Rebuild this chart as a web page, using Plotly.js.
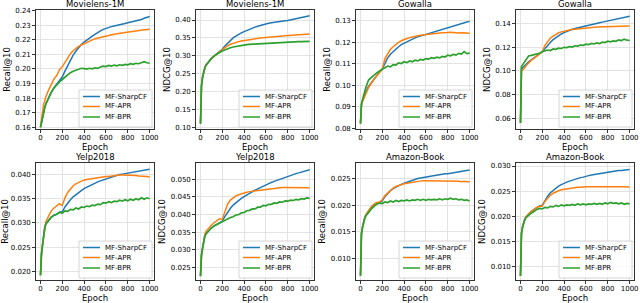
<!DOCTYPE html>
<html><head><meta charset="utf-8">
<script src="https://cdn.plot.ly/plotly-3.0.1.min.js"></script>
<style>html,body{margin:0;padding:0;background:#fff}#chart{width:640px;height:303px}</style>
</head><body><div id="chart"></div>
<script>
const epochs = [1,5,10,20,30,40,50,75,100,125,150,175,200,225,250,275,300,325,350,375,400,425,450,475,500,525,550,575,600,625,650,675,700,725,750,775,800,825,850,875,900,925,950,975,1000];
const seriesNames = ['MF-SharpCF','MF-APR','MF-BPR'];
const panelTitles = ['Movielens-1M','Movielens-1M','Gowalla','Gowalla','Yelp2018','Yelp2018','Amazon-Book','Amazon-Book'];
const metricLabels = ['Recall@10','NDCG@10','Recall@10','NDCG@10','Recall@10','NDCG@10','Recall@10','NDCG@10'];
const xLabel = 'Epoch';
const xTickVals = [0,200,400,600,800,1000];

const mlRecallSharp = [0.1600,0.1615,0.1635,0.1675,0.1710, 0.1735,0.1760,0.1808,0.1842,0.1872, 0.1896,0.1918,0.1945,0.1985,0.2025, 0.2062,0.2095,0.2122,0.2148,0.2168, 0.2185,0.2200,0.2212,0.2225,0.2238, 0.2252,0.2262,0.2272,0.2280,0.2286, 0.2291,0.2295,0.2298,0.2302,0.2306, 0.2312,0.2318,0.2322,0.2327,0.2333, 0.2336,0.2340,0.2348,0.2356,0.2360];
const mlRecallAPR = [0.1600,0.1620,0.1660,0.1720,0.1760, 0.1780,0.1810,0.1855,0.1890,0.1932, 0.1955,0.1995,0.2015,0.2045,0.2075, 0.2105,0.2125,0.2143,0.2155,0.2165, 0.2175,0.2185,0.2193,0.2200,0.2207, 0.2212,0.2218,0.2222,0.2227,0.2232, 0.2235,0.2238,0.2242,0.2245,0.2248, 0.2252,0.2255,0.2258,0.2261,0.2263, 0.2265,0.2267,0.2269,0.2270,0.2274];
const mlRecallBPR = [0.1600,0.1615,0.1635,0.1675,0.1710, 0.1735,0.1760,0.1805,0.1840,0.1870, 0.1893,0.1912,0.1928,0.1945,0.1962, 0.1975,0.1985,0.1992,0.1998,0.2005, 0.2002,0.1999,0.2005,0.2001,0.2008, 0.2004,0.2014,0.2020,0.2017,0.2024, 0.2020,0.2027,0.2022,0.2029,0.2025, 0.2032,0.2029,0.2036,0.2032,0.2039, 0.2036,0.2044,0.2050,0.2043,0.2040];

const mlNdcgSharp = [0.110,0.195,0.215,0.240,0.255, 0.265,0.273,0.284,0.292,0.299, 0.305,0.311,0.318,0.327,0.335, 0.342,0.350,0.355,0.360,0.364, 0.3675,0.371,0.374,0.377,0.380, 0.3825,0.385,0.387,0.389,0.391, 0.3925,0.394,0.395,0.396,0.397, 0.398,0.3985,0.400,0.401,0.4025, 0.404,0.4055,0.407,0.409,0.412];
const mlNdcgAPR = [0.110,0.195,0.215,0.240,0.255, 0.265,0.273,0.284,0.292,0.299, 0.305,0.310,0.317,0.323,0.328, 0.332,0.335,0.3375,0.3395,0.341, 0.3425,0.344,0.345,0.3465,0.3475, 0.3485,0.3495,0.3505,0.3515,0.352, 0.353,0.3535,0.3545,0.355,0.3555, 0.356,0.3565,0.357,0.3575,0.358, 0.3585,0.359,0.3595,0.360,0.3605];
const mlNdcgBPR = [0.110,0.195,0.215,0.240,0.255, 0.265,0.273,0.284,0.292,0.299, 0.305,0.309,0.3135,0.317,0.320, 0.3225,0.3245,0.3262,0.3275,0.3288, 0.330,0.331,0.332,0.3325,0.3333, 0.334,0.3345,0.335,0.3355,0.336, 0.3362,0.3368,0.337,0.3375,0.3375, 0.338,0.3382,0.3385,0.3388,0.339, 0.3395,0.3395,0.340,0.3398,0.3400];

const gwRecallSharp = [0.0822,0.0892,0.0910,0.0928,0.0942, 0.0957,0.0970,0.0995,0.1013,0.1032, 0.1047,0.1062,0.1076,0.1105,0.1128, 0.1145,0.1158,0.1170,0.1180,0.1190, 0.1197,0.1204,0.1210,0.1216,0.1221, 0.1226,0.1230,0.1234,0.1238,0.1242, 0.1246,0.1250,0.1254,0.1258,0.1262, 0.1266,0.1270,0.1274,0.1278,0.1282, 0.1286,0.1289,0.1292,0.1295,0.1298];
const gwRecallAPR = [0.0822,0.0890,0.0908,0.0925,0.0938, 0.0952,0.0965,0.0990,0.1010,0.1030, 0.1045,0.1060,0.1075,0.1125,0.1150, 0.1168,0.1180,0.1192,0.1200,0.1208, 0.1214,0.1218,0.1222,0.1226,0.1229, 0.1231,0.1233,0.1235,0.1236,0.1238, 0.1240,0.1241,0.1242,0.1244,0.1245, 0.1244,0.1246,0.1247,0.1245,0.1246, 0.1244,0.1245,0.1243,0.1244,0.1243];
const gwRecallBPR = [0.0822,0.0895,0.0915,0.0935,0.0955, 0.0975,0.0990,0.1025,0.1038,0.1048, 0.1058,0.1068,0.1075,0.1082,0.1090, 0.1086,0.1097,0.1095,0.1105,0.1102, 0.1110,0.1106,0.1114,0.1110,0.1117, 0.1114,0.1121,0.1118,0.1125,0.1122, 0.1129,0.1126,0.1131,0.1128,0.1135, 0.1132,0.1141,0.1138,0.1144,0.1141, 0.1149,0.1146,0.1157,0.1148,0.1150];

const gwNdcgSharp = [0.056,0.099,0.1015,0.1025,0.1035, 0.1045,0.1055,0.1075,0.1092,0.1108, 0.1125,0.1142,0.1160,0.1185,0.1215, 0.1240,0.1262,0.1280,0.1296,0.1310, 0.1322,0.1333,0.1342,0.1350,0.1357, 0.1363,0.1369,0.1375,0.1380,0.1385, 0.1390,0.1395,0.1400,0.1405,0.1410, 0.1415,0.1420,0.1425,0.1430,0.1435, 0.1440,0.1444,0.1449,0.1454,0.1459];
const gwNdcgAPR = [0.056,0.098,0.1000,0.1005,0.1012, 0.1025,0.1040,0.1065,0.1090,0.1105, 0.1125,0.1140,0.1160,0.1215,0.1250, 0.1275,0.1292,0.1308,0.1320,0.1328, 0.1335,0.1340,0.1344,0.1348,0.1351, 0.1354,0.1357,0.1359,0.1361,0.1363, 0.1365,0.1366,0.1368,0.1369,0.1370, 0.1371,0.1372,0.1373,0.1374,0.1375, 0.1375,0.1376,0.1376,0.1377,0.1377];
const gwNdcgBPR = [0.056,0.100,0.1035,0.1050,0.1065, 0.1080,0.1095,0.1125,0.1130,0.1135, 0.1142,0.1148,0.1160,0.1165,0.1175, 0.1171,0.1184,0.1181,0.1191,0.1188, 0.1198,0.1195,0.1204,0.1200,0.1211, 0.1208,0.1217,0.1214,0.1224,0.1220, 0.1231,0.1226,0.1235,0.1230,0.1241, 0.1238,0.1249,0.1244,0.1252,0.1248, 0.1261,0.1255,0.1267,0.1258,0.1255];

const ypRecallSharp = [0.0192,0.0215,0.0235,0.0255,0.0275, 0.0290,0.0298,0.0306,0.0312,0.0316, 0.0318,0.0322,0.0323,0.0333,0.0341, 0.0348,0.0354,0.0359,0.0363,0.0367, 0.0371,0.0374,0.0377,0.0380,0.0382, 0.0385,0.0387,0.0389,0.0391,0.0393, 0.0395,0.0397,0.0398,0.0400,0.0401, 0.0402,0.0403,0.0404,0.0405,0.0406, 0.0407,0.0408,0.0409,0.0410,0.0411];
const ypRecallAPR = [0.0192,0.0215,0.0235,0.0255,0.0275, 0.0292,0.0302,0.0314,0.0325,0.0331, 0.0336,0.0340,0.0336,0.0352,0.0363, 0.0371,0.0377,0.0381,0.0384,0.0387, 0.0389,0.0390,0.0391,0.0392,0.0393, 0.0394,0.0394,0.0395,0.0396,0.0396, 0.0397,0.0398,0.0399,0.0399,0.0399, 0.0399,0.0399,0.0398,0.0398,0.0398, 0.0397,0.0397,0.0396,0.0396,0.0395];
const ypRecallBPR = [0.0192,0.0215,0.0235,0.0255,0.0275, 0.0290,0.0298,0.0306,0.0312,0.0316, 0.0318,0.0322,0.0320,0.0325,0.0324, 0.0328,0.0327,0.0331,0.0329,0.0333, 0.0332,0.0335,0.0334,0.0337,0.0336, 0.0339,0.0338,0.0342,0.0341,0.0344, 0.0342,0.0345,0.0344,0.0347,0.0345, 0.0348,0.0346,0.0349,0.0347,0.0350, 0.0348,0.0352,0.0349,0.0352,0.0350];

const ypNdcgSharp = [0.0226,0.0265,0.0285,0.0305,0.0325, 0.0338,0.0345,0.0355,0.0362,0.0368, 0.0372,0.0376,0.0381,0.0395,0.0408, 0.0418,0.0427,0.0434,0.0440,0.0446, 0.0451,0.0456,0.0461,0.0465,0.0469, 0.0473,0.0477,0.0481,0.0485,0.0488, 0.0491,0.0494,0.0497,0.0500,0.0503, 0.0506,0.0509,0.0511,0.0514,0.0516, 0.0518,0.0520,0.0523,0.0525,0.0527];
const ypNdcgAPR = [0.0226,0.0265,0.0285,0.0305,0.0328, 0.0342,0.0352,0.0362,0.0370,0.0377, 0.0382,0.0388,0.0387,0.0412,0.0430, 0.0441,0.0448,0.0453,0.0456,0.0459, 0.0461,0.0463,0.0465,0.0466,0.0467, 0.0468,0.0470,0.0471,0.0472,0.0473, 0.0475,0.0476,0.0476,0.0476,0.0477, 0.0477,0.0477,0.0478,0.0477,0.0478, 0.0477,0.0477,0.0476,0.0476,0.0475];
const ypNdcgBPR = [0.0226,0.0265,0.0285,0.0305,0.0325, 0.0338,0.0345,0.0355,0.0362,0.0368, 0.0372,0.0376,0.0380,0.0385,0.0387, 0.0392,0.0394,0.0399,0.0400,0.0405, 0.0406,0.0411,0.0412,0.0416,0.0416, 0.0421,0.0421,0.0426,0.0425,0.0429, 0.0429,0.0433,0.0432,0.0436,0.0435, 0.0439,0.0438,0.0441,0.0440,0.0443, 0.0442,0.0445,0.0444,0.0447,0.0446];

const azRecallSharp = [0.0068,0.0128,0.0148,0.0160,0.0170, 0.0177,0.0182,0.0190,0.0196,0.0201, 0.0204,0.0205,0.0208,0.0216,0.0222, 0.0227,0.0231,0.0234,0.0237,0.0239, 0.0241,0.0243,0.0245,0.0247,0.0248, 0.0250,0.0251,0.0252,0.0253,0.0254, 0.0255,0.0256,0.0257,0.0257,0.0258, 0.0259,0.0259,0.0260,0.0261,0.0262, 0.0262,0.0263,0.0264,0.0265,0.0266];
const azRecallAPR = [0.0068,0.0128,0.0148,0.0160,0.0170, 0.0177,0.0182,0.0190,0.0197,0.0202, 0.0205,0.0206,0.0210,0.0218,0.0223, 0.0228,0.0232,0.0235,0.0237,0.0239, 0.0240,0.0241,0.0242,0.0243,0.0244, 0.0245,0.0245,0.0246,0.0246,0.0246, 0.0246,0.0246,0.0246,0.0246,0.0246, 0.0246,0.0245,0.0246,0.0245,0.0245, 0.0245,0.0244,0.0245,0.0244,0.0244];
const azRecallBPR = [0.0068,0.0125,0.0145,0.0158,0.0168, 0.0175,0.0180,0.0187,0.0193,0.0198, 0.0202,0.0204,0.0203,0.0206,0.0205, 0.0208,0.0206,0.0209,0.0207,0.0209, 0.0208,0.0210,0.0208,0.0210,0.0209, 0.0211,0.0209,0.0211,0.0209,0.0211, 0.0210,0.0211,0.0210,0.0212,0.0210, 0.0212,0.0211,0.0213,0.0211,0.0212, 0.0210,0.0211,0.0209,0.0210,0.0208];

const azNdcgSharp = [0.0082,0.0152,0.0167,0.0180,0.0189, 0.0195,0.0199,0.0205,0.0210,0.0214, 0.0218,0.0221,0.0222,0.0232,0.0240, 0.0247,0.0252,0.0256,0.0260,0.0263, 0.0266,0.0268,0.0270,0.0272,0.0274, 0.0275,0.0277,0.0278,0.0280,0.0281, 0.0282,0.0283,0.0284,0.0285,0.0286, 0.0287,0.0288,0.0289,0.0289,0.0290, 0.0291,0.0291,0.0292,0.0292,0.0293];
const azNdcgAPR = [0.0082,0.0152,0.0167,0.0180,0.0189, 0.0195,0.0199,0.0205,0.0210,0.0214, 0.0218,0.0220,0.0220,0.0230,0.0237, 0.0242,0.0246,0.0249,0.0251,0.0253, 0.0254,0.0255,0.0256,0.0257,0.0257, 0.0258,0.0258,0.0259,0.0259,0.0259, 0.0259,0.0260,0.0260,0.0260,0.0260, 0.0260,0.0260,0.0260,0.0260,0.0259, 0.0259,0.0259,0.0259,0.0259,0.0258];
const azNdcgBPR = [0.0082,0.0150,0.0165,0.0178,0.0187, 0.0193,0.0197,0.0203,0.0207,0.0210, 0.0214,0.0216,0.0215,0.0218,0.0217, 0.0220,0.0219,0.0222,0.0220,0.0223, 0.0221,0.0223,0.0222,0.0224,0.0222, 0.0225,0.0223,0.0225,0.0223,0.0225, 0.0224,0.0226,0.0224,0.0226,0.0224, 0.0227,0.0225,0.0228,0.0226,0.0227, 0.0225,0.0227,0.0224,0.0226,0.0225];

const panelSeries = [
  [mlRecallSharp, mlRecallAPR, mlRecallBPR],
  [mlNdcgSharp, mlNdcgAPR, mlNdcgBPR],
  [gwRecallSharp, gwRecallAPR, gwRecallBPR],
  [gwNdcgSharp, gwNdcgAPR, gwNdcgBPR],
  [ypRecallSharp, ypRecallAPR, ypRecallBPR],
  [ypNdcgSharp, ypNdcgAPR, ypNdcgBPR],
  [azRecallSharp, azRecallAPR, azRecallBPR],
  [azNdcgSharp, azNdcgAPR, azNdcgBPR]
];

// ---- styling ----
const W = 640, H = 303;
const colors = ['#1f77b4','#ff7f0e','#2ca02c'];
const widths = [1.5, 1.5, 1.7];
const FONT = 'DejaVu Sans, Liberation Sans, sans-serif';
const colPx = [[36,154],[196,314],[356,474],[516,634]];
const rowPx = [[10,129],[163,280]];
const yRanges = [[0.1588,0.2405],[0.095,0.428],[0.0797,0.1351],[0.051,0.1512],[0.0182,0.0424],[0.0215,0.0546],[0.0060,0.0279],[0.0074,0.0306]];
const yDticks = [0.01,0.05,0.01,0.02,0.005,0.005,0.005,0.005];
const yFormats = ['.2f','.2f','.2f','.2f','.3f','.3f','.3f','.3f'];

const data = [];
const layout = {
  width: W, height: H, margin: {l:0,r:0,t:0,b:0},
  paper_bgcolor: '#fff', plot_bgcolor: '#fff', showlegend: false,
  font: {family: FONT, color: '#000'},
  shapes: [], annotations: []
};

for (let i = 0; i < 8; i++) {
  const n = i === 0 ? '' : String(i + 1);
  const r = Math.floor(i / 4), c = i % 4;
  const [x0, x1] = colPx[c], [yt, yb] = rowPx[r];
  const pw = x1 - x0, ph = yb - yt;
  for (let s = 0; s < 3; s++) {
    data.push({
      type: 'scatter', mode: 'lines', x: epochs, y: panelSeries[i][s],
      name: seriesNames[s], xaxis: 'x' + n, yaxis: 'y' + n,
      line: {color: colors[s], width: widths[s]}, showlegend: false, hoverinfo: 'skip'
    });
  }
  const common = {
    showline: true, linecolor: '#000', linewidth: 0.8, mirror: true,
    ticks: 'outside', ticklen: 3, tickwidth: 0.8, tickcolor: '#000',
    showgrid: true, gridcolor: '#dcdcdc', gridwidth: 0.8, zeroline: false,
    tickfont: {size: 7, family: FONT, color: '#000'}
  };
  layout['xaxis' + n] = Object.assign({}, common, {
    domain: [x0 / W, x1 / W], anchor: 'y' + n, range: [-40, 1040],
    tickvals: xTickVals, ticktext: xTickVals.map(String), ticklabelstandoff: -1
  });
  layout['yaxis' + n] = Object.assign({}, common, {
    domain: [1 - yb / H, 1 - yt / H], anchor: 'x' + n, range: yRanges[i],
    dtick: yDticks[i], tick0: 0, tickformat: yFormats[i],
    title: {text: metricLabels[i], font: {size: 8.5, family: FONT, color: '#000'}, standoff: 3}
  });
  const xr = 'x' + n + ' domain', yr = 'y' + n + ' domain';
  // subplot title
  layout.annotations.push({
    text: panelTitles[i], xref: xr, yref: yr, x: 0.5, y: 1, xanchor: 'center', yanchor: 'bottom',
    yshift: 0, borderpad: 0, showarrow: false, font: {size: 8.5, family: FONT, color: '#000'}
  });
  // x-axis label
  layout.annotations.push({
    text: xLabel, xref: xr, yref: yr, x: 0.5, y: 0, xanchor: 'center', yanchor: 'middle',
    yshift: -17.5, borderpad: 0, showarrow: false, font: {size: 8.5, family: FONT, color: '#000'}
  });
  // legend box (matplotlib style, lower right)
  const fx = px => (pw + px) / pw;   // px measured from right edge (negative)
  const fy = px => px / ph;          // px measured from bottom edge
  layout.shapes.push({
    type: 'rect', xref: xr, yref: yr, x0: fx(-75), x1: fx(-2), y0: fy(2), y1: fy(39),
    fillcolor: 'rgba(255,255,255,0.8)', line: {color: '#cccccc', width: 0.8}, layer: 'above'
  });
  const rows = [32.5, 22.5, 12];
  for (let s = 0; s < 3; s++) {
    layout.shapes.push({
      type: 'line', xref: xr, yref: yr, x0: fx(-71), x1: fx(-54), y0: fy(rows[s]), y1: fy(rows[s]),
      line: {color: colors[s], width: 1.5}, layer: 'above'
    });
    layout.annotations.push({
      text: seriesNames[s], xref: xr, yref: yr, x: fx(-50), y: fy(rows[s]),
      xanchor: 'left', yanchor: 'middle', showarrow: false, borderpad: 0,
      font: {size: 7, family: FONT, color: '#000'}
    });
  }
}

Plotly.newPlot('chart', data, layout, {staticPlot: true});
</script></body></html>
